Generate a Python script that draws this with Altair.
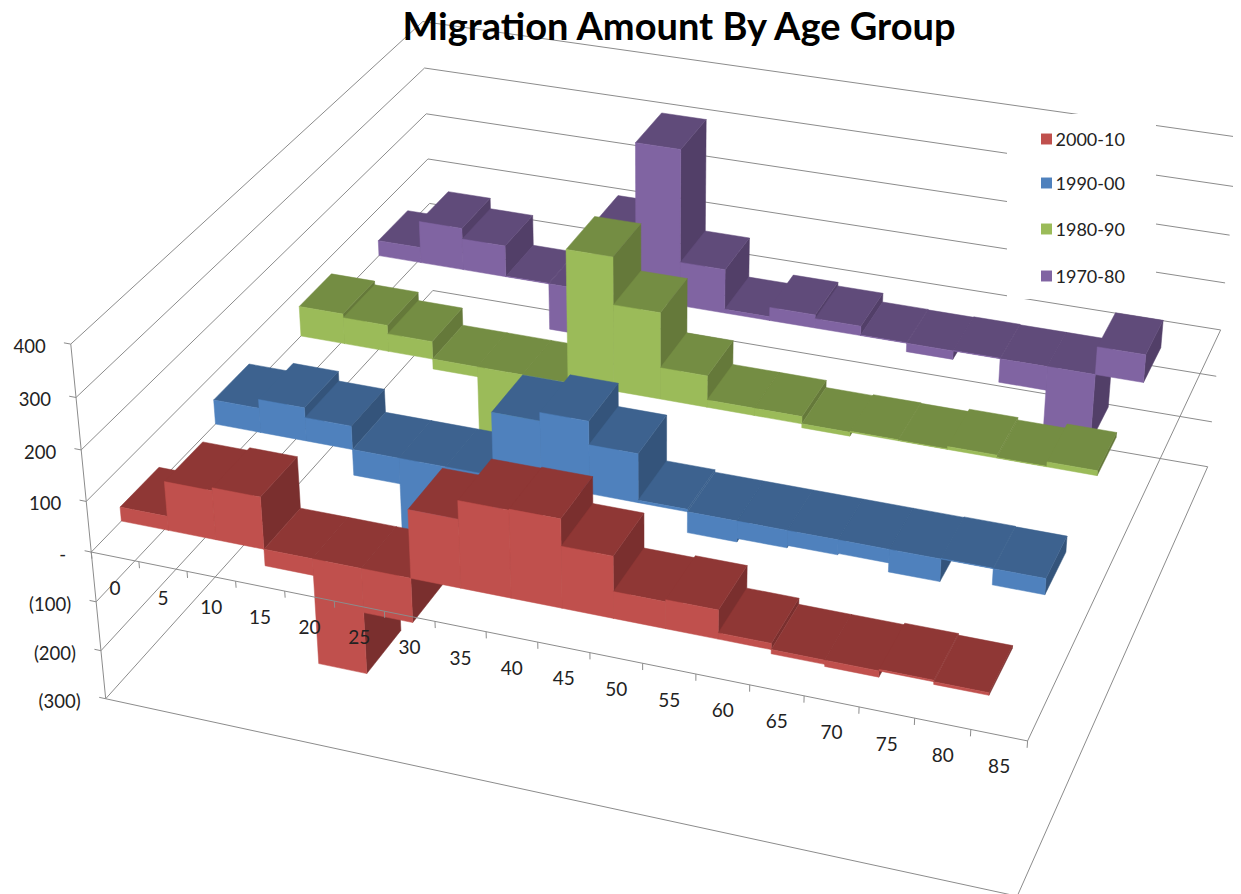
import numpy as np
import pandas as pd
import altair as alt

W, H = 1225, 886
FONT = "Lato"
TITLE = "Migration Amount By Age Group"

AGES = [0, 5, 10, 15, 20, 25, 30, 35, 40, 45, 50, 55, 60, 65, 70, 75, 80, 85]
Z_TICKS = [400, 300, 200, 100, 0, -100, -200, -300]
Z_LABELS = ["400", "300", "200", "100", "-", "(100)", "(200)", "(300)"]

S2000 = [28, 97, 103, -33, -212, -88, 134, 170, 172, 120, 52, 56, 12, -8, -12, 3, -5]
S1990 = [50, 68, 48, -53, -150, -90, 128, 145, 98, 5, -42, -35, -30, -27, -45, 1, -32]
S1980 = [63, 55, 37, -21, -150, -60, 275, 178, 65, 15, 15, -8, 2, 1, 6, 1, 10]
S1970 = [33, 90, 67, 1, -100, 140, 330, 93, 8, 28, 20, 1, -18, 1, -50, -145, 58]

SERIES = [
    ("2000-10", S2000, "#C0504D", "#8F3735", "#7A2F2E"),
    ("1990-00", S1990, "#4F81BD", "#3D628F", "#34547B"),
    ("1980-90", S1980, "#9BBB59", "#748D43", "#65793A"),
    ("1970-80", S1970, "#8064A2", "#604B7A", "#523F68"),
]

# Camera: a 3x4 projective matrix fitted to the box corners seen in the picture
WORLD = [(0, 0, 400), (0, 0, 0), (0, 0, -300), (18, 0, 0), (18, 0, -300),
         (0, 1, 400), (0, 1, 0), (0, 1, -300), (18, 1, 400), (18, 1, 0), (18, 1, -300)]
IMAGE = [(71, 345), (91, 551), (105.5, 699), (1027, 741), (1018, 896),
         (422, 22), (431, 202), (434, 334), (1239, 137), (1221, 330), (1207, 467)]


def _norm(a, s, z):
    return np.array([a / 18.0, s, (z + 300) / 700.0, 1.0])


rows = []
for (a, s, z), (u, v) in zip(WORLD, IMAGE):
    X = _norm(a, s, z)
    u, v = u / 1000.0, v / 1000.0
    rows.append(np.concatenate([X, np.zeros(4), -u * X]))
    rows.append(np.concatenate([np.zeros(4), X, -v * X]))
P = np.linalg.svd(np.array(rows))[2][-1].reshape(3, 4)


def project(a, s, z):
    q = P @ _norm(a, s, z)
    return float(q[0] / q[2] * 1000 - 8), float(q[1] / q[2] * 1000 - 8)


def seg_rows(pid, pts):
    out = []
    for k, (a, s, z) in enumerate(pts):
        x, y = project(a, s, z)
        out.append({"pid": pid, "k": k, "x": x, "y": y})
    return out


# Walls and floor lines
back = []
pid = 0
for z in Z_TICKS:
    back += seg_rows(pid, [(0, 0, z), (0, 1, z), (18, 1, z)])
    pid += 1
back += seg_rows(pid, [(0, 0, -300), (18, 0, -300), (18, 1, -300)]); pid += 1
back += seg_rows(pid, [(18, 0, 0), (18, 1, 0)]); pid += 1
front = []
pid = 0
front += seg_rows(pid, [(0, 0, 400), (0, 0, -300)]); pid += 1
for z in Z_TICKS:
    front += seg_rows(pid, [(0, 0, z), (-0.14, 0, z)]); pid += 1
front += seg_rows(pid, [(0, 0, 0), (18, 0, 0)]); pid += 1
for i in range(len(AGES) + 1):
    front += seg_rows(pid, [(i, 0, 0), (i, 0, -13)]); pid += 1

# Columns, back series first, left to right; side, top, then front of each.
# A very low column's side takes the top's colour so that no seam shows.
polys = []
pid = 0
for si in range(len(SERIES) - 1, -1, -1):
    name, vals, cf, ct, cs = SERIES[si]
    s0, s1 = (si + 0.3) / 4, (si + 0.7) / 4
    for i, v in enumerate(vals):
        top = max(v, 0)
        side_col = cs if (abs(v) > 6 or i == len(vals) - 1) else ct
        faces = [
            (side_col, [(i + 1, s0, 0), (i + 1, s1, 0), (i + 1, s1, v), (i + 1, s0, v)]),
            (ct, [(i, s0, top), (i + 1, s0, top), (i + 1, s1, top), (i, s1, top)]),
            (cf, [(i, s0, 0), (i + 1, s0, 0), (i + 1, s0, v), (i, s0, v)]),
        ]
        for col, pts in faces:
            for r in seg_rows(pid, pts + pts[:1]):
                r["c"] = col
                r["series"] = name
                polys.append(r)
            pid += 1

cat_labels = []
for i, a in enumerate(AGES):
    x, y = project(i + 0.5, 0, 0)
    cat_labels.append({"x": x, "y": y, "t": str(a)})
val_labels = []
for z, t in zip(Z_TICKS, Z_LABELS):
    x, y = project(0, 0, z)
    val_labels.append({"x": x, "y": y, "t": t})

LEG_X, LEG_Y = 1046.5 - 8, [139 - 8, 183 - 8, 229 - 8, 276 - 8]
legend = pd.DataFrame({
    "x": [LEG_X] * 4,
    "y": LEG_Y,
    "t": [s[0] for s in SERIES],
    "c": [s[2] for s in SERIES],
})

X = alt.X("x:Q", scale=alt.Scale(domain=[0, W], nice=False, zero=False), axis=None)
Y = alt.Y("y:Q", scale=alt.Scale(domain=[H, 0], nice=False, zero=False), axis=None)
GRID = "#8C8C8C"

wall = alt.Chart(pd.DataFrame(back)).mark_line(color=GRID, strokeWidth=1).encode(
    x=X, y=Y, detail="pid:N", order="k:Q")
box = alt.Chart(pd.DataFrame({"x": [1007 - 8], "x2": [1156 - 8], "y": [114 - 8], "y2": [299 - 8]})).mark_rect(
    color="white").encode(x=X, x2="x2:Q", y=Y, y2="y2:Q")
bars = alt.Chart(pd.DataFrame(polys)).mark_line(strokeWidth=0.5, interpolate="linear").encode(
    x=X, y=Y, detail="pid:Q", order="k:Q",
    fill=alt.Fill("c:N", scale=None),
    stroke=alt.Stroke("c:N", scale=None))
axes = alt.Chart(pd.DataFrame(front)).mark_line(color=GRID, strokeWidth=1).encode(
    x=X, y=Y, detail="pid:N", order="k:Q")
cats = alt.Chart(pd.DataFrame(cat_labels)).mark_text(
    font=FONT, fontSize=19, color="#222222", dy=32).encode(x=X, y=Y, text="t:N")
vals_t = alt.Chart(pd.DataFrame(val_labels)).mark_text(
    font=FONT, fontSize=18.5, color="#222222", align="right", dx=-25, dy=3).encode(x=X, y=Y, text="t:N")
leg_sw = alt.Chart(legend).mark_point(shape="square", filled=True, size=120, opacity=1).encode(
    x=X, y=Y, color=alt.Color("c:N", scale=None))
leg_tx = alt.Chart(legend).mark_text(
    font=FONT, fontSize=18, color="#222222", align="left", dx=9, dy=2).encode(x=X, y=Y, text="t:N")
title_t = alt.Chart(pd.DataFrame({"x": [679 - 8], "y": [29 - 8], "t": [TITLE]})).mark_text(
    font=FONT, fontSize=38, fontWeight="bold", color="black").encode(x=X, y=Y, text="t:N")

chart = alt.layer(wall, box, bars, axes, cats, vals_t, leg_sw, leg_tx, title_t).properties(
    width=W, height=H,
    padding=0,
    autosize=alt.AutoSizeParams(type="none"),
).configure_view(stroke=None)

chart.save("out.html", embed_options={"renderer": "svg", "actions": False})
